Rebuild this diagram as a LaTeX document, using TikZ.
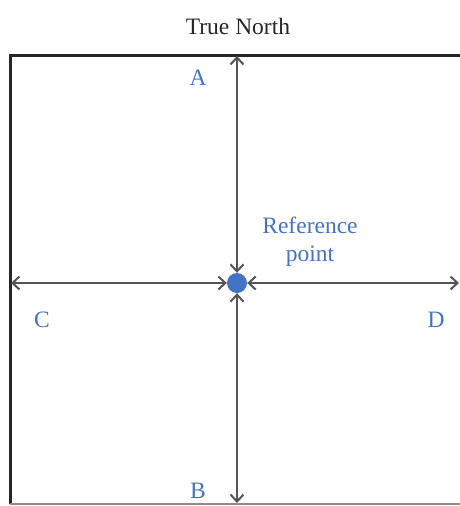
\documentclass[tikz,border=0pt]{standalone}
\usepackage{fontspec}
\setmainfont{Liberation Serif}
\usetikzlibrary{arrows.meta}
\definecolor{refblue}{HTML}{4472C4}
\definecolor{linegray}{HTML}{555555}
\tikzset{
    frame/.style={draw=black!85, line width=3pt},
    baseline/.style={draw=black!45, line width=1.5pt},
    bearing/.style={{Straight Barb[length=7pt,width=13pt]}-{Straight Barb[length=7pt,width=13pt]},
                    draw=linegray, line width=2pt},
    label/.style={text=refblue, font=\fontsize{23.5}{28}\selectfont, align=center},
    title/.style={text=black!85, font=\fontsize{23.5}{28}\selectfont},
    refdot/.style={circle, fill=refblue, minimum size=20pt, inner sep=0pt},
}
\begin{document}
\begin{tikzpicture}[x=1pt, y=-1pt]
    \useasboundingbox (0,0) rectangle (460,506);

    % outline of the site
    \coordinate (nw) at (10,55);
    \coordinate (ne) at (462,55);
    \coordinate (sw) at (10,504);
    \coordinate (se) at (462,504);
    \draw[frame] (sw) -- (nw) -- (ne);
    \draw[baseline] (sw) -- (se);

    \node[refdot] (ref) at (237,283) {};
    \coordinate (north) at (237,56);
    \coordinate (south) at (237,503);
    \coordinate (west) at (11,283);
    \coordinate (east) at (459,283);

    \draw[bearing] (north) -- (ref);
    \draw[bearing] (south) -- (ref);
    \draw[bearing] (west) -- (ref);
    \draw[bearing] (east) -- (ref);

    \node[title] (tn) at (238,26) {True North};
    \node[label] (a) at (198,78) {A};
    \node[label] (b) at (198,491) {B};
    \node[label] (c) at (42,320) {C};
    \node[label] (d) at (436,320) {D};
    \node[label] (refl) at (310,242) {Reference\\point};

\end{tikzpicture}
\end{document}
